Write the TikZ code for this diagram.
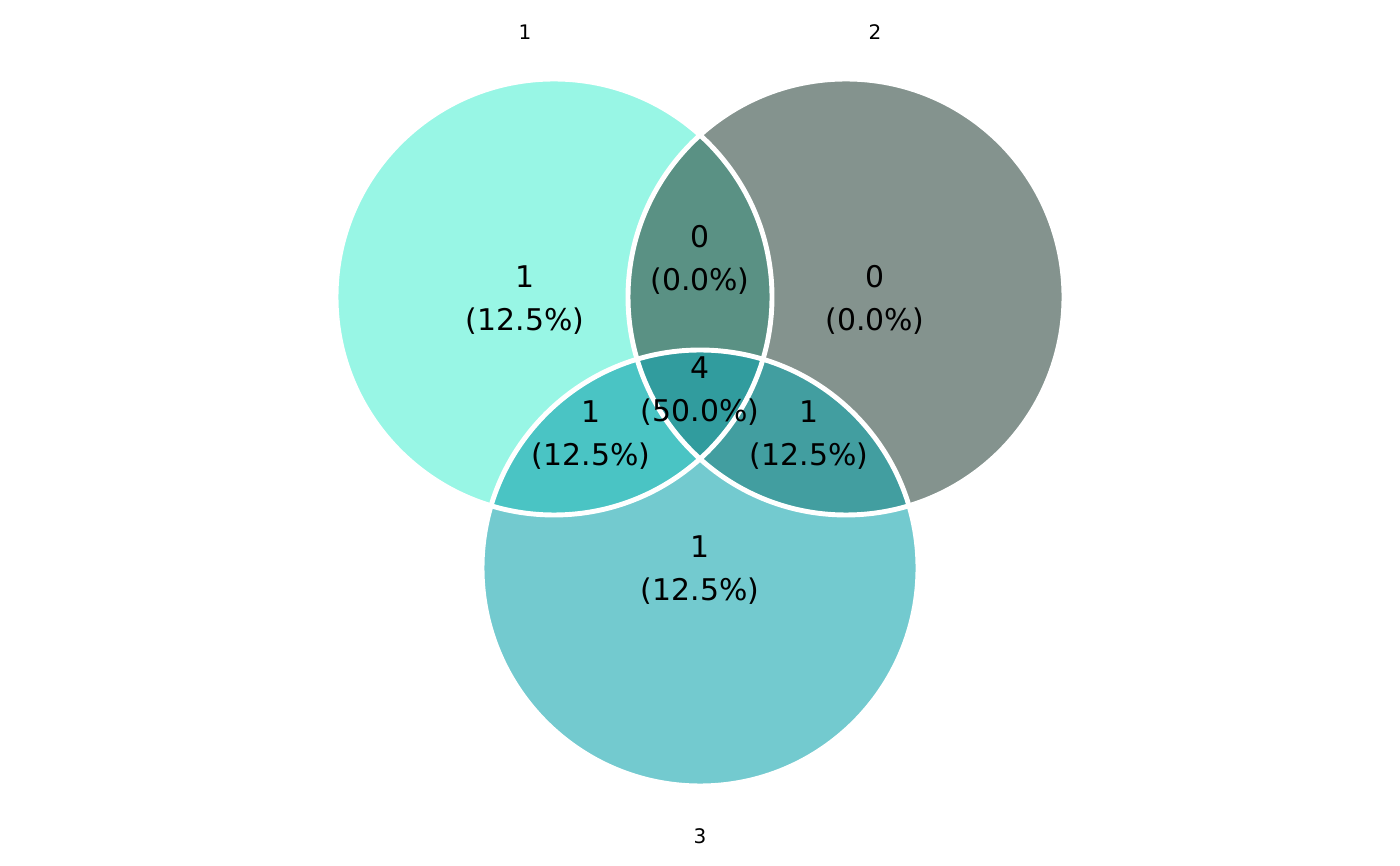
\documentclass[tikz,border=0pt]{standalone}
\usepackage{fontspec}
\setmainfont{DejaVu Sans}
\definecolor{onlyA}{HTML}{98F6E5}
\definecolor{onlyB}{HTML}{84938E}
\definecolor{onlyC}{HTML}{73CACF}
\definecolor{partAB}{HTML}{5A9184}
\definecolor{partAC}{HTML}{4AC4C4}
\definecolor{partBC}{HTML}{429EA0}
\definecolor{partABC}{HTML}{319C9E}

\begin{document}
\begin{tikzpicture}[
		count/.style = {align = center, font = \fontsize{8.5}{12.3}\selectfont},
		setname/.style = {font = \fontsize{5.7}{7}\selectfont},
		rim/.style = {draw = white, line width = 1.4pt}]
		\useasboundingbox (0, 0) rectangle (14, 8.66);
		%%%%%%%%%%%%%
		\coordinate (cA) at (5.54, 5.69);
		\coordinate (cB) at (8.46, 5.69);
		\coordinate (cC) at (7.00, 2.98);
		\def\rad{2.18}
		%%%%%%%%%%%%%
		\fill [onlyA] (cA) circle (\rad);
		\fill [onlyB] (cB) circle (\rad);
		\fill [onlyC] (cC) circle (\rad);
		\begin{scope} \clip (cA) circle (\rad); \fill [partAB] (cB) circle (\rad); \end{scope}
		\begin{scope} \clip (cA) circle (\rad); \fill [partAC] (cC) circle (\rad); \end{scope}
		\begin{scope} \clip (cB) circle (\rad); \fill [partBC] (cC) circle (\rad); \end{scope}
		\begin{scope} \clip (cA) circle (\rad); \clip (cB) circle (\rad); \fill [partABC] (cC) circle (\rad); \end{scope}
		\draw [rim] (cA) circle (\rad); \draw [rim] (cB) circle (\rad); \draw [rim] (cC) circle (\rad);
		%%%%%%%%%%%%%
		\node [count] (nA) at (5.25, 5.66) {1\\(12.5\%)};
		\node [count] (nB) at (8.75, 5.66) {0\\(0.0\%)};
		\node [count] (nC) at (7.00, 2.96) {1\\(12.5\%)};
		\node [count] (nAB) at (7.00, 6.06) {0\\(0.0\%)};
		\node [count] (nAC) at (5.91, 4.31) {1\\(12.5\%)};
		\node [count] (nBC) at (8.09, 4.31) {1\\(12.5\%)};
		\node [count] (nABC) at (7.00, 4.75) {4\\(50.0\%)};
		%%%%%%%%%%%%%
		\node [setname] (lA) at (5.25, 8.34) {1};
		\node [setname] (lB) at (8.75, 8.34) {2};
		\node [setname] (lC) at (7.00, 0.30) {3};
\end{tikzpicture}
\end{document}
